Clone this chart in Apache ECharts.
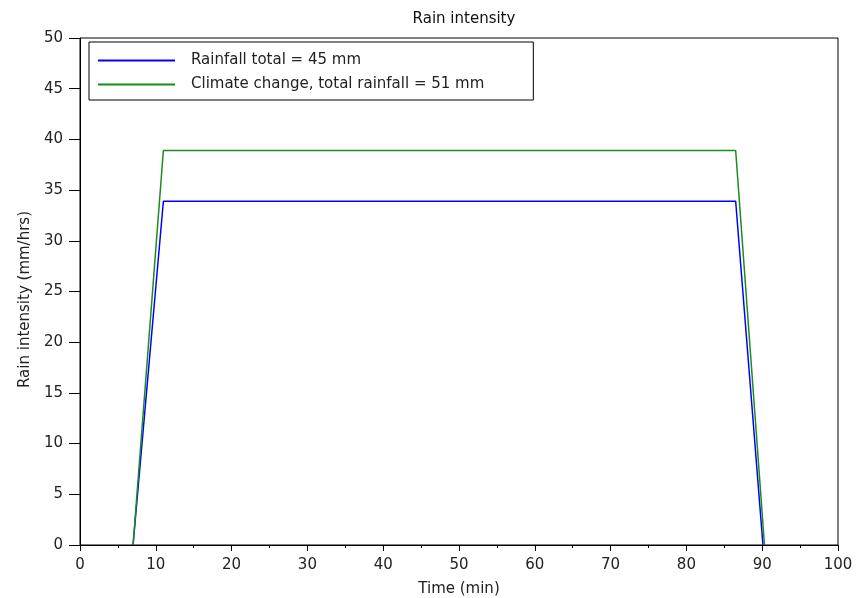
<!DOCTYPE html>
<html>
<head>
<meta charset="utf-8">
<script src="https://cdn.jsdelivr.net/npm/echarts@6/dist/echarts.min.js"></script>
<style>
  html, body { margin: 0; padding: 0; background: #fff; }
  #chart { width: 867px; height: 598px; }
</style>
</head>
<body>
<div id="chart"></div>
<script>
// data
const seriesNames = ['Rainfall total = 45 mm', 'Climate change, total rainfall = 51 mm'];
const rainfallNow = [[7, 0], [11, 33.9], [86.5, 33.9], [90.1, 0]];
const rainfallClimate = [[7, 0], [11, 38.9], [86.5, 38.9], [90.3, 0]];

const chart = echarts.init(document.getElementById('chart'));

const axisFont = { color: '#222', fontSize: 15, fontFamily: 'DejaVu Sans' };

const option = {
  animation: false,
  backgroundColor: '#fff',
  title: {
    text: 'Rain intensity',
    left: 459,
    textAlign: 'center',
    top: 7,
    textStyle: { fontFamily: 'DejaVu Sans', fontSize: 15, fontWeight: 'normal', color: '#111' }
  },
  legend: {
    orient: 'vertical',
    left: 89,
    top: 42,
    padding: [11, 49, 8, 9],
    itemGap: 9,
    itemWidth: 77,
    itemHeight: 2,
    borderColor: '#000',
    borderWidth: 1,
    textStyle: { fontFamily: 'DejaVu Sans', fontSize: 15, color: '#222', lineHeight: 15, padding: [0, 0, 0, 11] },
    data: [
      { name: seriesNames[0], icon: 'rect' },
      { name: seriesNames[1], icon: 'rect' }
    ]
  },
  grid: {
    left: 80, right: 29, top: 38, bottom: 53,
    outerBoundsMode: 'none',
    show: true,
    borderColor: '#000',
    borderWidth: 1
  },
  xAxis: {
    type: 'value',
    min: 0, max: 100, interval: 10,
    name: 'Time (min)',
    nameLocation: 'middle',
    nameGap: 37,
    nameTextStyle: axisFont,
    axisLine: { lineStyle: { color: '#000', width: 1 } },
    axisTick: { length: 6, lineStyle: { color: '#000' } },
    minorTick: { show: true, splitNumber: 2, length: 3, lineStyle: { color: '#000' } },
    axisLabel: Object.assign({ margin: 13 }, axisFont),
    splitLine: { show: false }
  },
  yAxis: {
    type: 'value',
    min: 0, max: 50, interval: 5,
    name: 'Rain intensity (mm/hrs)',
    nameLocation: 'middle',
    nameGap: 44,
    nameTextStyle: Object.assign({ padding: [0, 16, 0, 0] }, axisFont),
    axisLine: { show: true, lineStyle: { color: '#000', width: 1 } },
    axisTick: { show: true, length: 11, lineStyle: { color: '#000' } },
    axisLabel: Object.assign({ margin: 17 }, axisFont),
    splitLine: { show: false }
  },
  series: [
    {
      name: seriesNames[0],
      type: 'line',
      symbol: 'none',
      data: rainfallNow,
      lineStyle: { color: '#0000ff', width: 1.5 },
      itemStyle: { color: '#0000ff' }
    },
    {
      name: seriesNames[1],
      type: 'line',
      symbol: 'none',
      data: rainfallClimate,
      lineStyle: { color: '#1a8c1a', width: 1.5 },
      itemStyle: { color: '#1a8c1a' }
    }
  ]
};

chart.setOption(option);
</script>
</body>
</html>
